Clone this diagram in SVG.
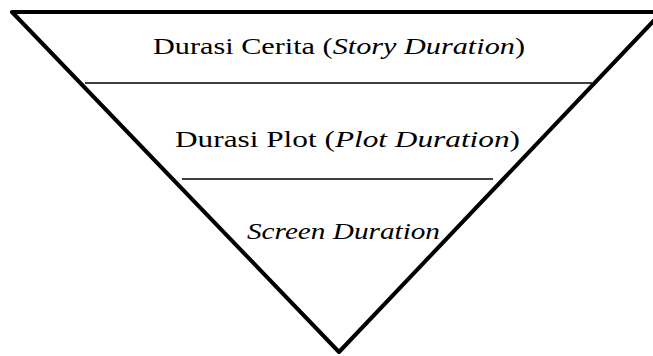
<svg xmlns="http://www.w3.org/2000/svg" width="653" height="356" viewBox="0 0 653 356">
<style>
.lbl{font-family:"Liberation Serif","DejaVu Serif",serif;font-size:24px;fill:#000;}
.it{font-style:italic;}
.edge{fill:none;stroke:#000;stroke-width:4;stroke-linejoin:round;stroke-linecap:round;}
.div{stroke:#000;stroke-width:1.6;}
</style>
<rect width="653" height="356" fill="#fff"/>
<g id="funnel">
<polygon class="edge" points="12,12 662,12 339,352"/>
</g>
<g id="connectors">
<line class="div" x1="85" y1="83" x2="592" y2="83"/>
<line class="div" x1="182" y1="179" x2="493" y2="179"/>
</g>
<g id="story">
<text class="lbl" x="153" y="54" textLength="372" lengthAdjust="spacingAndGlyphs">Durasi Cerita (<tspan class="it">Story Duration</tspan>)</text>
</g>
<g id="plot">
<text class="lbl" x="175" y="147" textLength="345" lengthAdjust="spacingAndGlyphs">Durasi Plot (<tspan class="it">Plot Duration</tspan>)</text>
</g>
<g id="screen">
<text class="lbl it" x="247" y="239" textLength="193" lengthAdjust="spacingAndGlyphs">Screen Duration</text>
</g>
</svg>
